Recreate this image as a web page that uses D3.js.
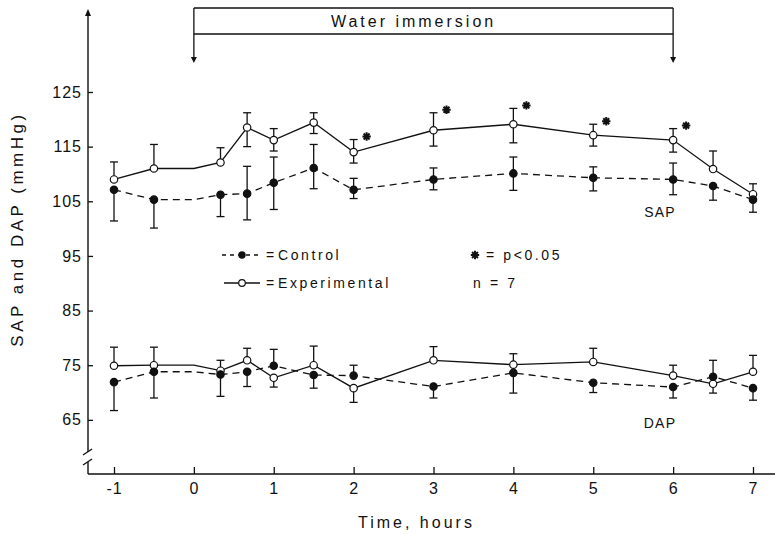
<!DOCTYPE html>
<head>
    <meta charset="utf-8">
    <title>SAP and DAP during water immersion</title>
    <style>
        body { margin: 0; background: #fff; }
        svg { display: block; }
        text { font-family: "Liberation Sans", Arial, sans-serif; fill: #111; }
        .tick line { stroke: #111; stroke-width: 1.3; }
        .tick text { font-size: 16px; letter-spacing: 1px; }
        .legend text { font-size: 14px; letter-spacing: 2.6px; }
    </style>
</head>
<body>

<svg width="775" height="534"></svg>

<script src="https://d3js.org/d3.v7.min.js"></script>
<script>

    // time points (hours); the point at 0 is only a line vertex (no symbol)
    var hours = [-1, -0.5, 0, 1/3, 2/3, 1, 1.5, 2, 3, 4, 5, 6, 6.5, 7];
    var unmarked = [0];

    // systolic arterial pressure
    var sapExp      = [109.0, 111.0, 111.0, 112.1, 118.5, 116.2, 119.4, 114.0, 118.0, 119.1, 117.1, 116.2, 110.9, 106.3];
    var sapExpHi    = [112.2, 115.4, null, 114.8, 121.2, 118.3, 121.2, 116.3, 121.2, 122.0, 119.1, 118.3, 114.2, 108.2];
    var sapExpLo    = [null, null, null, null, 115.0, 114.2, 117.4, 112.0, 115.1, 115.7, 115.1, 114.0, null, null];
    var sapCtrl     = [107.1, 105.3, 105.3, 106.2, 106.4, 108.4, 111.1, 107.1, 109.0, 110.1, 109.3, 109.0, 107.8, 105.3];
    var sapCtrlHi   = [null, null, null, null, 111.4, 113.1, 115.4, 109.2, 111.1, 113.1, 111.3, 112.0, null, null];
    var sapCtrlLo   = [101.4, 100.1, null, 102.2, 101.6, 103.5, 107.3, 105.5, 107.1, 107.0, 106.9, 106.2, 105.2, 103.0];

    // diastolic arterial pressure
    var dapExp      = [74.9, 75.0, 75.0, 74.0, 75.9, 72.7, 75.0, 70.8, 75.9, 75.1, 75.6, 73.1, 71.6, 73.8];
    var dapExpHi    = [78.3, 78.3, null, 75.9, 78.1, null, 78.5, null, 78.4, 77.1, 78.1, 75.0, null, 76.8];
    var dapExpLo    = [null, null, null, null, null, 71.0, null, 68.2, null, null, null, null, 69.9, null];
    var dapCtrl     = [71.9, 73.8, 73.8, 73.3, 73.8, 74.9, 73.2, 73.1, 71.1, 73.6, 71.8, 71.0, 72.9, 70.8];
    var dapCtrlHi   = [null, null, null, null, null, 77.9, null, 75.0, null, null, null, null, 75.9, null];
    var dapCtrlLo   = [66.7, 69.0, null, 69.3, 71.1, null, 70.8, null, 69.0, 69.9, 70.0, 69.0, null, 68.6];

    // significant SAP differences (p < 0.05)
    var sigHours = [2, 3, 4, 5, 6];

    var xTicks = [-1, 0, 1, 2, 3, 4, 5, 6, 7];
    var yTicks = [65, 75, 85, 95, 105, 115, 125];

    var svg = d3.select("svg");

    var x = d3.scaleLinear().domain([-1, 7]).range([114, 753]);
    var y = d3.scaleLinear().domain([55, 125]).range([474.5, 92]);

    var axisX = 88, axisY = 474;

    // axes
    var gy = svg.append("g").attr("transform", "translate(" + axisX + ",0)")
        .call(d3.axisLeft(y).tickValues(yTicks).tickSize(-5).tickPadding(6));
    gy.select(".domain").remove();

    var gx = svg.append("g").attr("transform", "translate(0," + axisY + ")")
        .call(d3.axisBottom(x).tickValues(xTicks).tickSize(-7).tickPadding(9)
            .tickFormat(function (d) { return d < 0 ? "-" + Math.abs(d) : d; }));
    gx.select(".domain").remove();

    var axes = svg.append("g").attr("stroke", "#111").attr("stroke-width", 1.4).attr("fill", "none");
    axes.append("line").attr("x1", axisX).attr("x2", 775).attr("y1", axisY).attr("y2", axisY);
    axes.append("line").attr("x1", axisX).attr("x2", axisX).attr("y1", 14).attr("y2", 452);
    axes.append("line").attr("x1", axisX).attr("x2", axisX).attr("y1", 462).attr("y2", axisY);
    axes.append("line").attr("x1", axisX - 5).attr("x2", axisX + 4).attr("y1", 455).attr("y2", 449);
    axes.append("line").attr("x1", axisX - 5).attr("x2", axisX + 4).attr("y1", 465).attr("y2", 459);
    svg.append("path").attr("d", "M" + axisX + ",9 l-3,7 l6,0 z").attr("fill", "#111");

    // water immersion bracket
    var wi = svg.append("g").attr("stroke", "#111").attr("stroke-width", 1.3).attr("fill", "none");
    [0, 6].forEach(function (h) {
        wi.append("line").attr("x1", x(h)).attr("x2", x(h)).attr("y1", 8).attr("y2", 58);
        svg.append("path").attr("d", "M" + x(h) + ",63 l-3,-6 l6,0 z").attr("fill", "#111");
    });
    wi.append("line").attr("x1", x(0)).attr("x2", x(6)).attr("y1", 8).attr("y2", 8);
    wi.append("line").attr("x1", x(0)).attr("x2", x(6)).attr("y1", 34).attr("y2", 34);
    svg.append("text").attr("x", x(2.75)).attr("y", 27).attr("text-anchor", "middle")
        .attr("font-size", 16).attr("letter-spacing", 3).text("Water immersion");

    // series
    var series = [
        {v: sapExp, hi: sapExpHi, lo: sapExpLo, open: true},
        {v: dapExp, hi: dapExpHi, lo: dapExpLo, open: true},
        {v: sapCtrl, hi: sapCtrlHi, lo: sapCtrlLo, open: false},
        {v: dapCtrl, hi: dapCtrlHi, lo: dapCtrlLo, open: false}
    ];

    var line = d3.line()
        .x(function (d) { return x(d[0]); })
        .y(function (d) { return y(d[1]); });

    series.forEach(function (s) {
        svg.append("path")
            .datum(hours.map(function (h, i) { return [h, s.v[i]]; }))
            .attr("fill", "none").attr("stroke", "#111").attr("stroke-width", 1.3)
            .attr("stroke-dasharray", s.open ? null : "7,5")
            .attr("d", line);
    });

    series.forEach(function (s) {
        var eg = svg.append("g").attr("stroke", "#111").attr("stroke-width", 1.3);
        hours.forEach(function (h, i) {
            [s.hi[i], s.lo[i]].forEach(function (e) {
                if (e == null) return;
                eg.append("line").attr("x1", x(h)).attr("x2", x(h)).attr("y1", y(s.v[i])).attr("y2", y(e));
                eg.append("line").attr("x1", x(h) - 4).attr("x2", x(h) + 4).attr("y1", y(e)).attr("y2", y(e));
            });
        });
    });

    series.forEach(function (s) {
        svg.append("g").selectAll("circle")
            .data(hours.map(function (h, i) { return [h, s.v[i]]; })
                .filter(function (d) { return unmarked.indexOf(d[0]) < 0; }))
            .enter().append("circle")
            .attr("cx", function (d) { return x(d[0]); })
            .attr("cy", function (d) { return y(d[1]); })
            .attr("r", 3.7)
            .attr("fill", s.open ? "#fff" : "#111")
            .attr("stroke", "#111").attr("stroke-width", 1.2);
    });

    function star(g, cx, cy, r) {
        var p = "";
        for (var k = 0; k < 4; k++) {
            var a = k * Math.PI / 4;
            p += "M" + (cx - r * Math.cos(a)) + "," + (cy - r * Math.sin(a)) +
                 "L" + (cx + r * Math.cos(a)) + "," + (cy + r * Math.sin(a));
        }
        g.append("path").attr("d", p).attr("stroke", "#111").attr("stroke-width", 2);
    }

    sigHours.forEach(function (h) {
        var i = hours.indexOf(h);
        star(svg, x(h) + 13, y(sapExpHi[i]) - 3, 4.2);
    });

    // labels
    svg.append("text").attr("x", 660).attr("y", 217).attr("text-anchor", "middle")
        .attr("font-size", 14).attr("letter-spacing", 1.2).text("SAP");
    svg.append("text").attr("x", 660).attr("y", 428).attr("text-anchor", "middle")
        .attr("font-size", 14).attr("letter-spacing", 1.2).text("DAP");

    svg.append("text").attr("transform", "translate(23,229) rotate(-90)")
        .attr("text-anchor", "middle").attr("font-size", 17).attr("letter-spacing", 3.5)
        .text("SAP and DAP (mmHg)");
    svg.append("text").attr("x", 358).attr("y", 528)
        .attr("font-size", 16).attr("letter-spacing", 3).text("Time, hours");

    // legend
    var lg = svg.append("g").attr("class", "legend");
    lg.append("line").attr("x1", 222).attr("x2", 262).attr("y1", 255).attr("y2", 255)
        .attr("stroke", "#111").attr("stroke-width", 1.3).attr("stroke-dasharray", "4,4");
    lg.append("circle").attr("cx", 242).attr("cy", 255).attr("r", 3.7).attr("fill", "#111");
    lg.append("text").attr("x", 266).attr("y", 260).text("=");
    lg.append("text").attr("x", 278).attr("y", 260).text("Control");

    lg.append("line").attr("x1", 224).attr("x2", 260).attr("y1", 283).attr("y2", 283)
        .attr("stroke", "#111").attr("stroke-width", 1.3);
    lg.append("circle").attr("cx", 242).attr("cy", 283).attr("r", 3.3)
        .attr("fill", "#fff").attr("stroke", "#111").attr("stroke-width", 1.2);
    lg.append("text").attr("x", 266).attr("y", 288).text("=");
    lg.append("text").attr("x", 278).attr("y", 288).text("Experimental");

    star(lg, 475, 255, 4.2);
    lg.append("text").attr("x", 486).attr("y", 260).text("= p<0.05");
    lg.append("text").attr("x", 473).attr("y", 288).text("n = 7");

</script>

</body>
